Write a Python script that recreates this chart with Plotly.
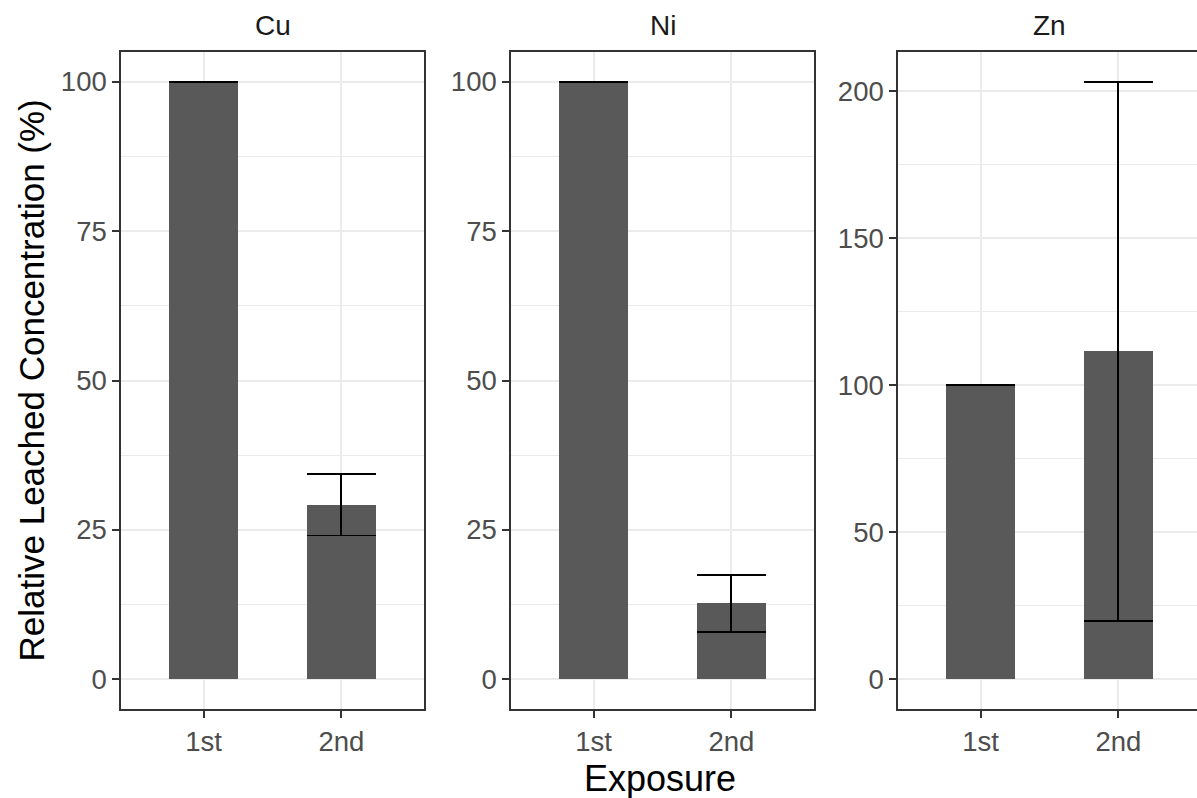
import plotly.graph_objects as go

metals = ["Cu", "Ni", "Zn"]
exposures = ["1st", "2nd"]
means = {"Cu": [100, 29.2], "Ni": [100, 12.67], "Zn": [100, 111.5]}
errors = {"Cu": [0, 5.15], "Ni": [0, 4.77], "Zn": [0, 91.6]}
y_ticks = {"Cu": [0, 25, 50, 75, 100], "Ni": [0, 25, 50, 75, 100], "Zn": [0, 50, 100, 150, 200]}

W, H = 1197, 798
L, R, T, B = 121, 0, 52, 89
pw = W - L - R
ph = H - T - B
px_domains = [(121, 424), (511, 814), (898, 1201)]
domains = [((a - L) / pw, min(1.0, (b - L) / pw)) for a, b in px_domains]

FONT = "Liberation Sans, Arial, sans-serif"
fig = go.Figure()
tickfont = dict(family=FONT, size=27.5, color="#4D4D4D")

for i, m in enumerate(metals):
    ax = "" if i == 0 else str(i + 1)
    a, b = px_domains[i]
    visible_w = min(b, L + pw) - a
    xr = [-0.6, -0.6 + 2.2 * visible_w / (b - a)]
    fig.add_trace(go.Bar(
        x=exposures, y=means[m], width=0.5,
        marker=dict(color="#595959", line=dict(width=0)),
        error_y=dict(type="data", array=errors[m], visible=True,
                     color="black", thickness=1.8, width=34.5),
        xaxis="x" + ax, yaxis="y" + ax, showlegend=False,
    ))
    top = max(v + e for v, e in zip(means[m], errors[m]))
    yr = [-0.05 * top, 1.05 * top]
    ticks = y_ticks[m]
    step = ticks[1] - ticks[0]
    fig.update_layout(**{
        "xaxis" + ax: dict(
            domain=list(domains[i]), anchor="y" + ax, range=xr,
            type="category", categoryorder="array", categoryarray=exposures,
            showline=True, mirror=True, linecolor="#333333", linewidth=1.5,
            showgrid=True, gridcolor="#EBEBEB", gridwidth=2,
            ticks="outside", ticklen=7, tickwidth=1.5, tickcolor="#333333",
            tickfont=tickfont, zeroline=False, fixedrange=True,
        ),
        "yaxis" + ax: dict(
            domain=[0, 1], anchor="x" + ax, range=yr,
            tickmode="array", tickvals=ticks, ticktext=[str(t) for t in ticks],
            showline=True, mirror=(i < 2), linecolor="#333333", linewidth=1.5,
            showgrid=True, gridcolor="#EBEBEB", gridwidth=2,
            minor=dict(tickmode="array", tickvals=[t + step / 2 for t in ticks[:-1]] + [ticks[-1] + step / 2],
                       showgrid=True, gridcolor="#EBEBEB", gridwidth=1, ticks=""),
            ticks="outside", ticklen=7, tickwidth=1.5, tickcolor="#333333",
            tickfont=tickfont, zeroline=False, fixedrange=True,
        ),
    })
    fig.add_annotation(
        text=m, xref="paper", yref="paper",
        x=((a + b) / 2 - L) / pw,
        y=1 + (T - 26) / ph, xanchor="center", yanchor="middle", showarrow=False,
        font=dict(family=FONT, size=28, color="#1A1A1A"),
    )

fig.add_annotation(
    text="Relative Leached Concentration (%)", xref="paper", yref="paper",
    x=(31 - L) / pw, y=0.5, textangle=-90, showarrow=False,
    xanchor="center", yanchor="middle",
    font=dict(family=FONT, size=35, color="black"),
)
fig.add_annotation(
    text="Exposure", xref="paper", yref="paper",
    x=(660 - L) / pw, y=-(778 - (T + ph)) / ph, showarrow=False,
    xanchor="center", yanchor="middle",
    font=dict(family=FONT, size=36, color="black"),
)

fig.update_layout(
    width=W, height=H, margin=dict(l=L, r=R, t=T, b=B),
    paper_bgcolor="white", plot_bgcolor="white", bargap=0,
)
fig.write_html("out.html", config={"displayModeBar": False},
               post_script="document.body.style.margin='0';document.body.style.padding='0';")
